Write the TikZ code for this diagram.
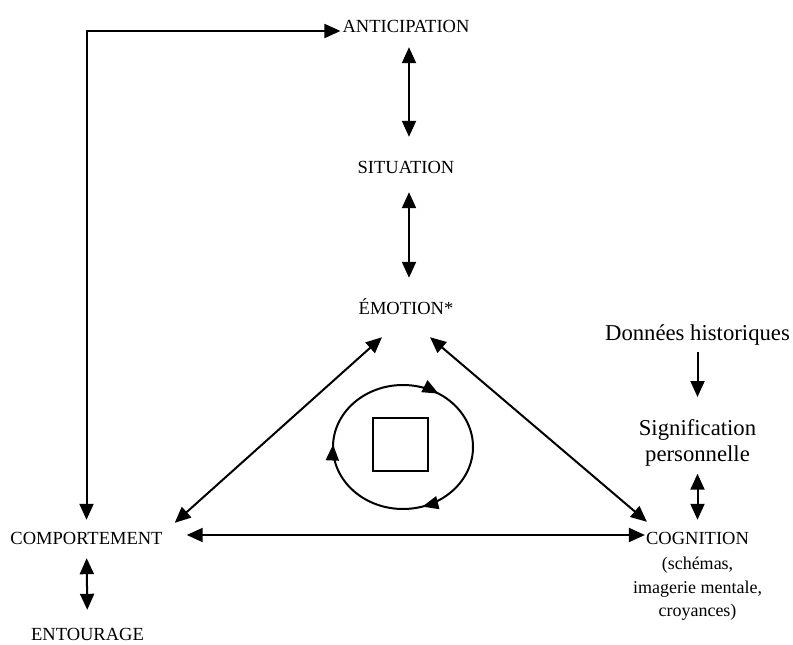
\documentclass[tikz,border=0pt]{standalone}
\usepackage{fontspec}
\setmainfont{Liberation Serif}
\usetikzlibrary{arrows.meta,decorations.markings}

\begin{document}
\begin{tikzpicture}[x=1pt,y=-1pt,
  >={Triangle[length=16pt,width=14pt]},
  conn/.style={line width=2pt},
  caps/.style={inner sep=0pt, font=\fontsize{18.5}{22}\selectfont, text height=13pt, text depth=0pt},
  big/.style={inner sep=0pt, font=\fontsize{22.7}{26}\selectfont, align=center},
  note/.style={inner sep=0pt, font=\fontsize{18}{23.5}\selectfont, align=center},
  cyclepath/.style={line width=2pt,
    postaction={decorate},
    decoration={markings,
      mark=at position 0.203 with {\arrow{Triangle[length=16pt,width=13pt]}},
      mark=at position 0.506 with {\arrow{Triangle[length=16pt,width=13pt]}},
      mark=at position 0.839 with {\arrow{Triangle[length=16pt,width=13pt]}}}},
  corebox/.style={draw, line width=2pt, minimum width=55pt, minimum height=53pt, inner sep=0pt}
]
\useasboundingbox (0,0) rectangle (793,645);

% central column
\node[caps] (antic) at (406,26) {ANTICIPATION};
\node[caps] (sit) at (406,167) {SITUATION};
\node[caps] (emo) at (406,308) {ÉMOTION*};

% corners of the triangle
\node[caps] (comp) at (86.5,538) {COMPORTEMENT};
\node[caps] (entour) at (87.5,634) {ENTOURAGE};
\node[caps] (cogn) at (697.5,538) {COGNITION};
\node[note, anchor=north] (detail) at (697.5,557) {(schémas,\\imagerie mentale,\\croyances)};

% right column
\node[big, anchor=base] (hist) at (697.5,340) {Données historiques};
\node[big, anchor=north] (signif) at (697.5,419.5) {Signification\\personnelle};

% central cycle
\node[corebox] (core) at (400.5,444.5) {};
\coordinate (cyc) at (403,447);
\draw[cyclepath] (cyc) ellipse [x radius=70, y radius=62];

% connectors
\draw[conn,<->,shorten <=2pt,shorten >=11.5pt] ([yshift=-5pt]antic.west) -| (comp.north);
\draw[conn,<->,shorten <=14.5pt,shorten >=23.5pt] ([xshift=3pt]antic.south) -- ([xshift=3pt]sit.north);
\draw[conn,<->,shorten <=18.5pt,shorten >=23.5pt] ([xshift=3pt]sit.south) -- ([xshift=3pt]emo.north);
\draw[conn,<->] ([xshift=-24pt,yshift=-22.5pt]emo.south) -- ([xshift=12pt,yshift=8.5pt]comp.north east);
\draw[conn,<->] ([xshift=24pt,yshift=-22.5pt]emo.south) -- ([xshift=1pt,yshift=9.5pt]cogn.north west);
\draw[conn,<->,shorten <=24pt,shorten >=1pt] ([yshift=3pt]comp.east) -- ([yshift=3pt]cogn.west);
\draw[conn,<->,shorten <=13.5pt,shorten >=17.5pt] (comp.south) -- (entour.north);
\draw[conn,->,shorten <=7pt,shorten >=22.5pt] (hist.south) -- (signif.north);
\draw[conn,<->,shorten <=7pt,shorten >=11.5pt] (signif.south) -- (cogn.north);
\end{tikzpicture}
\end{document}
